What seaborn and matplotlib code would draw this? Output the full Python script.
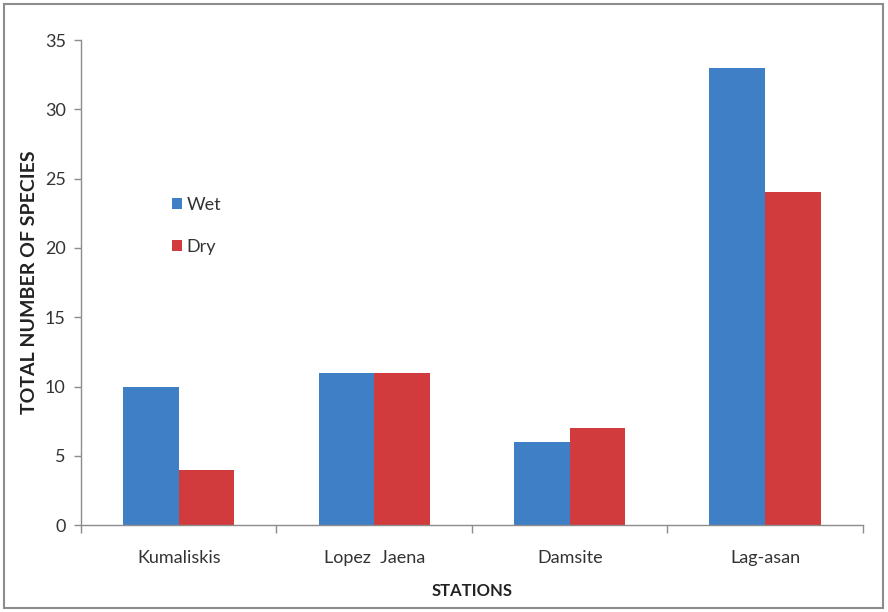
import matplotlib
matplotlib.use("Agg")
import matplotlib.pyplot as plt
import seaborn as sns
import pandas as pd
from matplotlib.patches import Rectangle

stations = ["Kumaliskis", "Lopez  Jaena", "Damsite", "Lag-asan"]
wet = [10, 11, 6, 33]
dry = [4, 11, 7, 24]
seasons = ["Wet", "Dry"]
colors = ["#3F7FC5", "#D13B3E"]

df = pd.DataFrame({
    "station": stations * 2,
    "season": ["Wet"] * len(stations) + ["Dry"] * len(stations),
    "count": wet + dry,
})

sns.set_theme(style="white")
plt.rcParams["font.family"] = ["Lato", "DejaVu Sans"]

fig = plt.figure(figsize=(8.88, 6.12), dpi=100)
ax = fig.add_axes([0.0912, 0.142, 0.8806, 0.7926])

sns.barplot(data=df, x="station", y="count", hue="season", order=stations,
            hue_order=seasons, palette=colors, width=0.57, gap=0,
            saturation=1, edgecolor="none", linewidth=0, ax=ax)

ax.set_xlim(-0.5, len(stations) - 0.5)
ax.set_ylim(0, 35)
ax.set_yticks(range(0, 36, 5))

for s in ["top", "right"]:
    ax.spines[s].set_visible(False)
for s in ["left", "bottom"]:
    ax.spines[s].set_color("#8C8C8C")
    ax.spines[s].set_linewidth(1.0)

ax.tick_params(axis="y", which="major", left=True, length=5, width=1,
               color="#8C8C8C", labelsize=13, labelcolor="#333333", pad=6)
ax.tick_params(axis="x", which="major", bottom=False, length=0,
               labelsize=13, labelcolor="#333333", pad=18)
ax.set_xticks([i - 0.5 for i in range(len(stations) + 1)], minor=True)
ax.tick_params(axis="x", which="minor", bottom=True, length=6, width=1,
               color="#8C8C8C")

ax.set_xlabel("STATIONS", fontsize=12, fontweight="bold", color="#222222",
              labelpad=12)
ax.set_ylabel("TOTAL NUMBER OF SPECIES", fontsize=14, fontweight="bold",
              color="#222222", labelpad=5)

leg = ax.legend(loc="upper left", bbox_to_anchor=(0.095, 0.71), frameon=False,
                fontsize=13, handlelength=0.6, handleheight=0.6,
                handletextpad=0.25, labelspacing=1.45, labelcolor="#333333")
leg.set_title(None)

# frame around the whole figure
fig.patches.append(Rectangle((0.005, 0.006), 0.989, 0.987,
                             transform=fig.transFigure, fill=False,
                             edgecolor="#8C8C8C", linewidth=1.5))

fig.savefig("out.png", dpi=100)
